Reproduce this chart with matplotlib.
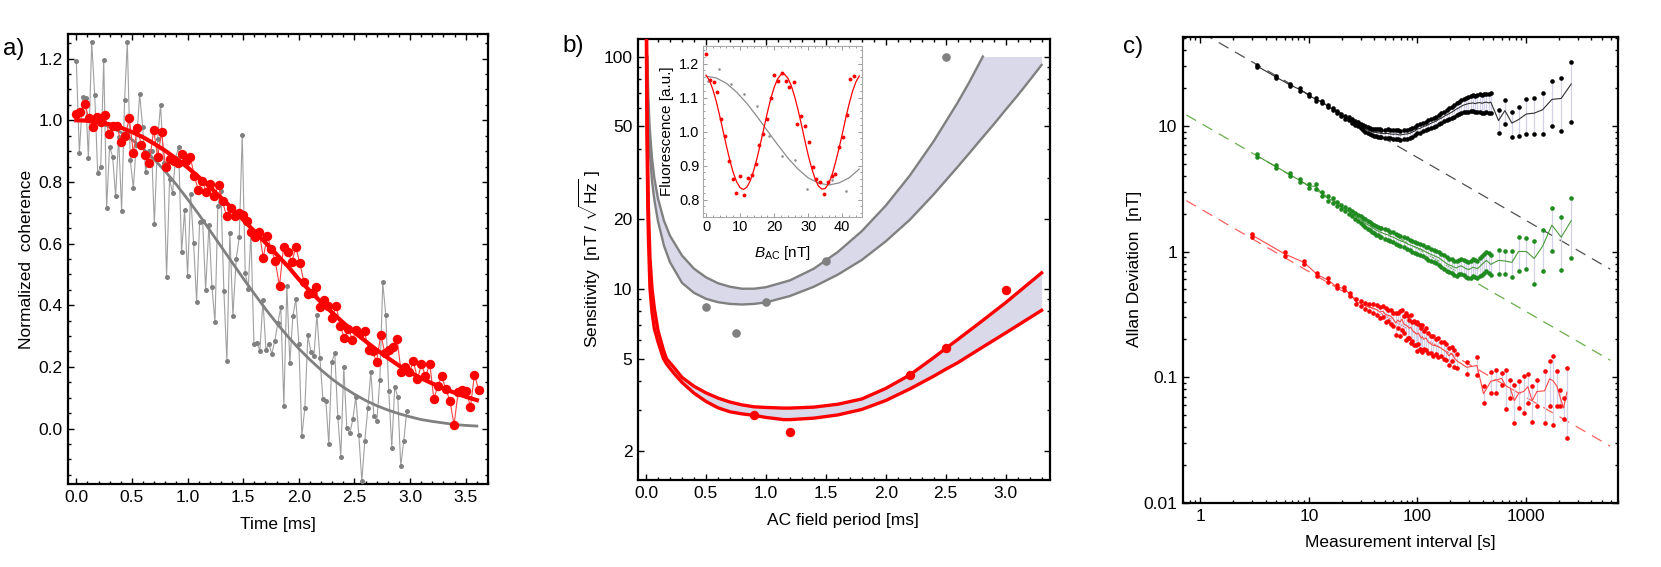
import numpy as np
import matplotlib
matplotlib.use('Agg')
import matplotlib.pyplot as plt
from matplotlib.ticker import MultipleLocator, FixedLocator, FixedFormatter, NullFormatter, LogLocator, FormatStrFormatter

plt.rcParams['font.family'] = ['Liberation Sans', 'DejaVu Sans']
plt.rcParams['mathtext.fontset'] = 'custom'
plt.rcParams['mathtext.rm'] = 'Liberation Sans'
plt.rcParams['mathtext.it'] = 'Liberation Sans:italic'
plt.rcParams['mathtext.bf'] = 'Liberation Sans:bold'
plt.rcParams['font.size'] = 12.5

# ---------------- Panel a data ----------------
red_t = [0.000, 0.036, 0.075, 0.111, 0.147, 0.186, 0.222, 0.257, 0.293, 0.329,
         0.365, 0.401, 0.440, 0.476, 0.512, 0.548, 0.584, 0.620, 0.656, 0.695,
         0.731, 0.766, 0.802, 0.838, 0.874, 0.910, 0.946, 0.985, 1.024, 1.060,
         1.096, 1.132, 1.168, 1.204, 1.240, 1.278, 1.314, 1.350, 1.386, 1.422,
         1.458, 1.497, 1.533, 1.569, 1.608, 1.644, 1.680, 1.716, 1.751, 1.787,
         1.826, 1.862, 1.901, 1.937, 1.973, 2.009, 2.045, 2.081, 2.117, 2.153,
         2.192, 2.228, 2.263, 2.299, 2.335, 2.371, 2.410, 2.446, 2.482, 2.518,
         2.554, 2.590, 2.626, 2.662, 2.698, 2.737, 2.772, 2.808, 2.847, 2.883,
         2.919, 2.955, 2.991, 3.030, 3.066, 3.102, 3.138, 3.177, 3.213, 3.249,
         3.284, 3.320, 3.359, 3.395, 3.431, 3.467, 3.506, 3.542, 3.578, 3.617]
red_v = [1.022, 1.027, 1.053, 1.009, 0.979, 1.010, 0.995, 1.016, 0.957, 0.980,
         0.980, 0.931, 0.950, 1.006, 0.894, 0.976, 0.919, 0.889, 0.862, 0.969,
         0.881, 0.962, 0.847, 0.874, 0.869, 0.860, 0.892, 0.867, 0.882, 0.820,
         0.774, 0.804, 0.768, 0.793, 0.753, 0.791, 0.737, 0.689, 0.716, 0.691,
         0.700, 0.692, 0.674, 0.638, 0.622, 0.637, 0.554, 0.625, 0.584, 0.544,
         0.463, 0.588, 0.573, 0.541, 0.588, 0.536, 0.477, 0.438, 0.440, 0.458,
         0.394, 0.417, 0.399, 0.358, 0.399, 0.333, 0.293, 0.323, 0.288, 0.320,
         0.309, 0.315, 0.255, 0.250, 0.217, 0.304, 0.246, 0.255, 0.263, 0.290,
         0.183, 0.199, 0.182, 0.218, 0.160, 0.209, 0.169, 0.210, 0.096, 0.138,
         0.169, 0.129, 0.088, 0.012, 0.117, 0.125, 0.122, 0.070, 0.174, 0.125]

gray_t = [0.000, 0.027, 0.057, 0.084, 0.108, 0.138, 0.165, 0.192, 0.219, 0.246,
          0.272, 0.299, 0.326, 0.353, 0.380, 0.407, 0.434, 0.458, 0.485, 0.512,
          0.539, 0.569, 0.596, 0.623, 0.650, 0.677, 0.701, 0.731, 0.757, 0.784,
          0.811, 0.838, 0.865, 0.892, 0.919, 0.946, 0.973, 1.000, 1.027, 1.054,
          1.081, 1.108, 1.135, 1.162, 1.192, 1.219, 1.246, 1.272, 1.299, 1.326,
          1.353, 1.380, 1.407, 1.437, 1.464, 1.491, 1.518, 1.545, 1.569, 1.596,
          1.623, 1.650, 1.677, 1.704, 1.731, 1.757, 1.784, 1.811, 1.838, 1.865,
          1.892, 1.919, 1.946, 1.973, 2.000, 2.027, 2.054, 2.081, 2.108, 2.135,
          2.162, 2.189, 2.216, 2.243, 2.269, 2.296, 2.323, 2.350, 2.377, 2.404,
          2.431, 2.458, 2.485, 2.512, 2.539, 2.566, 2.593, 2.620, 2.647, 2.674,
          2.701, 2.728, 2.754, 2.781, 2.808, 2.835, 2.862, 2.889, 2.916, 2.943,
          2.970]
gray_v = [1.191, 0.893, 1.076, 1.072, 0.878, 1.253, 1.083, 0.828, 0.850, 1.196,
          0.714, 0.915, 0.882, 0.754, 0.947, 0.706, 1.067, 1.255, 0.870, 0.781,
          0.920, 1.085, 0.979, 0.832, 0.900, 0.902, 0.662, 0.940, 1.050, 0.860,
          0.492, 0.808, 0.764, 0.879, 0.912, 0.572, 0.708, 0.495, 0.762, 0.602,
          0.412, 0.669, 0.674, 0.450, 0.661, 0.458, 0.345, 0.721, 0.770, 0.447,
          0.219, 0.635, 0.365, 0.550, 0.620, 0.953, 0.505, 0.453, 0.638, 0.274,
          0.277, 0.253, 0.417, 0.255, 0.274, 0.242, 0.285, 0.342, 0.394, 0.074,
          0.463, 0.212, 0.365, 0.419, 0.275, -0.024, 0.068, 0.302, 0.248, 0.234,
          0.369, 0.230, 0.096, 0.090, -0.051, 0.217, 0.244, 0.039, -0.091, 0.199,
          0.001, -0.015, 0.030, 0.102, -0.021, -0.170, -0.039, 0.066, 0.185, 0.041,
          0.025, 0.158, 0.474, 0.369, 0.123, -0.062, 0.136, 0.102, -0.123, -0.039,
          0.057]

fit_t = [0.0, 0.1, 0.2, 0.3, 0.4, 0.5, 0.6, 0.7, 0.8, 0.9, 1.0, 1.1, 1.2, 1.3, 1.4, 1.5,
         1.6, 1.7, 1.8, 1.9, 2.0, 2.1, 2.2, 2.3, 2.4, 2.5, 2.6, 2.7, 2.8, 2.9, 3.0, 3.1,
         3.2, 3.3, 3.4, 3.5, 3.6]
gray_fit = [1.0, 0.998, 0.991, 0.979, 0.961, 0.937, 0.908, 0.873, 0.834, 0.791, 0.744,
            0.695, 0.643, 0.591, 0.539, 0.487, 0.437, 0.388, 0.342, 0.299, 0.259, 0.223,
            0.190, 0.160, 0.134, 0.111, 0.091, 0.074, 0.060, 0.048, 0.038, 0.029, 0.023,
            0.018, 0.013, 0.010, 0.008]
red_fit = [1.0, 0.999, 0.994, 0.987, 0.976, 0.962, 0.945, 0.924, 0.901, 0.875, 0.847,
           0.816, 0.784, 0.749, 0.714, 0.677, 0.640, 0.603, 0.565, 0.527, 0.484, 0.446,
           0.410, 0.376, 0.343, 0.312, 0.283, 0.255, 0.229, 0.204, 0.182, 0.163, 0.146,
           0.130, 0.116, 0.103, 0.092]

# ---------------- Panel b data ----------------
gb_t = [0.009, 0.011, 0.02, 0.03, 0.05, 0.07, 0.1, 0.15, 0.2, 0.3, 0.4, 0.5, 0.6, 0.7,
        0.8, 0.9, 1.0, 1.2, 1.4, 1.6, 1.8, 2.0, 2.2, 2.4, 2.6, 2.7, 2.81, 2.9, 3.0,
        3.1, 3.2, 3.3]
gray_hi = [100, 100, 65.2, 49.8, 36.3, 29.8, 24.4, 19.6, 16.9, 13.9, 12.2, 11.2, 10.56,
           10.2, 10.0, 10.0, 10.15, 10.86, 12.2, 14.4, 17.7, 22.8, 30.7, 43.2, 63.4,
           78.1, 100, 100, 100, 100, 100, 100]
gray_lo = [100, 82, 52, 40, 29, 24, 19.5, 15.3, 13.0, 10.6, 9.6, 9.05, 8.75, 8.6, 8.55,
           8.6, 8.73, 9.3, 10.2, 11.5, 13.3, 16.0, 19.8, 25.5, 33.5, 38.5, 45, 51, 59,
           68, 79, 92]

rb_t = [0.003, 0.005, 0.008, 0.01, 0.015, 0.02, 0.033, 0.05, 0.07, 0.1, 0.145, 0.17,
        0.23, 0.3, 0.4, 0.5, 0.6, 0.7, 0.8, 0.9, 1.0, 1.15, 1.2, 1.4, 1.6, 1.8, 2.0,
        2.2, 2.4, 2.5, 2.6, 2.8, 3.0, 3.3]
red_hi = [200, 119, 70, 50, 32, 22, 13.5, 10, 8.2, 6.6, 5.45, 5.0, 4.6, 4.15, 3.8, 3.56,
          3.38, 3.25, 3.16, 3.1, 3.08, 3.06, 3.06, 3.09, 3.18, 3.35, 3.72, 4.25, 5.05,
          5.53, 6.04, 7.24, 8.71, 11.7]
red_lo = [119, 72, 45, 36, 22, 16.5, 10, 7.9, 6.7, 5.9, 5.0, 4.75, 4.34, 3.95, 3.55,
          3.27, 3.07, 2.95, 2.89, 2.85, 2.79, 2.73, 2.73, 2.77, 2.86, 3.02, 3.3, 3.7,
          4.2, 4.5, 4.8, 5.57, 6.45, 8.07]

gray_pt_t = [0.5, 0.75, 1.0, 1.5, 2.5]
gray_pt = [8.37, 6.47, 8.73, 13.1, 99.3]
red_pt_t = [0.9, 1.2, 2.2, 2.5, 3.0]
red_pt = [2.87, 2.41, 4.25, 5.53, 9.84]

# inset
ins_red_B = [0.0, 1.2, 2.2, 3.2, 4.4, 5.6, 6.7, 7.8, 8.9, 10.0, 11.1, 12.3, 13.4, 14.6,
             15.6, 16.7, 17.9, 19.0, 20.0, 21.2, 22.3, 23.5, 24.5, 25.7, 26.8, 27.9,
             29.0, 30.1, 31.3, 32.4, 33.4, 34.6, 35.8, 36.9, 38.0, 39.1, 40.2, 41.3,
             42.4, 43.5]
ins_red_F = [1.227, 1.151, 1.145, 1.117, 1.037, 0.986, 0.914, 0.862, 0.820, 0.871,
             0.815, 0.864, 0.874, 0.906, 0.961, 0.994, 1.038, 1.099, 1.166, 1.148,
             1.173, 1.150, 1.131, 1.145, 1.023, 1.046, 1.017, 0.970, 0.896, 0.860,
             0.852, 0.818, 0.852, 0.870, 0.876, 0.955, 0.985, 1.050, 1.155, 1.165]
ins_gray_B = [0.5, 3.8, 7.3, 11.1, 15.0, 18.6, 22.4, 26.0, 29.6, 33.3, 37.1, 41.0]
ins_gray_F = [1.15, 1.185, 1.141, 1.11, 1.076, 0.986, 0.928, 0.916, 0.83, 0.852, 0.857, 0.826]
red_fit_B = [0, 1, 2, 3, 4, 5, 6, 7, 8, 9, 10, 11, 12, 13, 14, 15, 16, 17, 18, 19, 20, 21,
             22, 23, 24, 25, 26, 27, 28, 29, 30, 31, 32, 33, 34, 35, 36, 37, 38, 39, 40,
             41, 42, 43, 44, 45]
red_fit_F = [1.166, 1.151, 1.124, 1.089, 1.047, 1.002, 0.957, 0.915, 0.879, 0.852, 0.835,
             0.830, 0.837, 0.856, 0.886, 0.923, 0.966, 1.011, 1.056, 1.097, 1.130, 1.155,
             1.168, 1.169, 1.158, 1.136, 1.104, 1.065, 1.021, 0.975, 0.931, 0.893, 0.862,
             0.840, 0.831, 0.833, 0.847, 0.873, 0.909, 0.949, 0.993, 1.039, 1.081, 1.118,
             1.146, 1.164]
gray_fit_B = [0, 3, 6, 9, 12, 15, 18, 21, 24, 27, 30, 33, 36, 39, 42, 45]
gray_fit_F = [1.163, 1.158, 1.142, 1.116, 1.083, 1.044, 1.003, 0.962, 0.923, 0.890, 0.864,
              0.849, 0.843, 0.849, 0.864, 0.890]

# ---------------- Panel c data ----------------
bg_tau = [3.32, 4.98, 6.64, 8.3, 9.96, 11.6, 13.3, 14.9, 16.6, 18.3,
          19.9, 21.6, 23.2, 24.9, 26.6, 28.2, 29.9, 31.5, 33.2, 34.9,
          36.5, 38.2, 39.8, 41.5, 43.2, 44.8, 46.5, 49.8, 53.1, 56.4,
          59.8, 63.1, 66.4, 69.7, 74.7, 79.7, 84.7, 89.6, 94.6, 99.6,
          106, 113, 120, 126, 133, 141, 149, 158, 166, 176,
          186, 196, 206, 218, 229, 241, 254, 266, 280, 294,
          309, 324, 340, 357, 375, 392, 412, 432, 452, 474,
          558, 639, 741, 853, 1005, 1189, 1419, 1729, 2109, 2608]
black_mid = [29.9, 24.4, 21.2, 19.4, 17.5, 16.2, 15.4, 14.3, 13.5, 12.8,
             12.2, 11.7, 11.4, 10.9, 10.5, 10.3, 9.95, 9.7, 9.45, 9.2,
             9.1, 8.95, 8.9, 8.85, 8.8, 8.75, 8.7, 8.65, 8.7, 8.6,
             8.55, 8.6, 8.5, 8.45, 8.55, 8.6, 8.7, 8.9, 9.1, 9.4,
             9.55, 9.85, 10.0, 10.2, 10.45, 10.7, 10.9, 11.3, 11.5, 11.9,
             12.2, 12.5, 12.8, 13.2, 13.6, 13.9, 14.3, 14.6, 14.8, 15.0,
             15.1, 15.2, 15.0, 15.2, 15.3, 15.1, 15.3, 15.4, 15.2, 15.4,
             11.0, 13.2, 10.5, 11.2, 12.4, 12.6, 13.4, 16.2, 16.5, 21.5]
black_err = [0.02, 0.02, 0.02, 0.02, 0.02, 0.02, 0.02, 0.02, 0.02, 0.02,
             0.02, 0.025, 0.025, 0.03, 0.03, 0.035, 0.04, 0.045, 0.05, 0.055,
             0.06, 0.06, 0.065, 0.065, 0.07, 0.07, 0.07, 0.075, 0.075, 0.075,
             0.08, 0.08, 0.08, 0.085, 0.085, 0.085, 0.08, 0.08, 0.08, 0.075,
             0.075, 0.075, 0.075, 0.08, 0.08, 0.08, 0.085, 0.085, 0.09, 0.09,
             0.095, 0.1, 0.1, 0.105, 0.11, 0.115, 0.12, 0.125, 0.13, 0.135,
             0.14, 0.145, 0.15, 0.155, 0.16, 0.165, 0.17, 0.17, 0.175, 0.18,
             0.21, 0.22, 0.23, 0.26, 0.31, 0.32, 0.36, 0.39, 0.45, 0.50]
green_mid = [5.77, 4.74, 4.09, 3.67, 3.32, 3.30, 2.87, 2.65, 2.54, 2.39,
             2.27, 2.18, 2.09, 2.0, 1.92, 1.85, 1.8, 1.74, 1.68, 1.63,
             1.6, 1.55, 1.52, 1.48, 1.46, 1.43, 1.42, 1.38, 1.36, 1.32,
             1.3, 1.27, 1.24, 1.22, 1.19, 1.16, 1.13, 1.11, 1.09, 1.07,
             1.05, 1.02, 0.99, 0.97, 0.95, 0.93, 0.91, 0.89, 0.86, 0.83,
             0.80, 0.78, 0.77, 0.75, 0.74, 0.76, 0.77, 0.75, 0.73, 0.72,
             0.73, 0.75, 0.74, 0.73, 0.76, 0.79, 0.82, 0.85, 0.82, 0.79,
             0.85, 0.84, 0.82, 1.0, 1.0, 0.88, 1.1, 1.62, 1.3, 1.76]
green_err = [0.03, 0.03, 0.03, 0.03, 0.03, 0.04, 0.04, 0.04, 0.04, 0.04,
             0.04, 0.045, 0.05, 0.05, 0.055, 0.06, 0.06, 0.065, 0.07, 0.07,
             0.07, 0.075, 0.075, 0.08, 0.08, 0.08, 0.085, 0.085, 0.085, 0.09,
             0.09, 0.09, 0.09, 0.09, 0.095, 0.095, 0.095, 0.1, 0.1, 0.1,
             0.1, 0.105, 0.105, 0.11, 0.11, 0.11, 0.115, 0.115, 0.12, 0.12,
             0.125, 0.125, 0.13, 0.13, 0.135, 0.135, 0.14, 0.14, 0.145, 0.15,
             0.15, 0.155, 0.16, 0.16, 0.165, 0.17, 0.17, 0.175, 0.18, 0.18,
             0.22, 0.21, 0.24, 0.3, 0.28, 0.37, 0.36, 0.38, 0.45, 0.5]
red_tau = [3, 6, 9, 12, 15, 18, 21, 24, 27, 30,
           33, 36, 39, 42, 45, 48, 51, 54, 57, 60,
           63, 66, 69, 72, 75, 78, 81, 84, 87, 90,
           93, 96, 99, 102, 105, 108, 111, 114, 120, 126,
           132, 138, 147, 156, 165, 174, 183, 195, 207, 219,
           231,
           285, 353, 406, 475, 532, 595, 653, 715, 779, 860,
           949, 1040, 1140, 1259, 1482, 1647, 1768, 1924, 2065, 2218,
           2378]
red_mid = [1.35, 0.955, 0.82, 0.653, 0.593, 0.525, 0.506, 0.458, 0.40, 0.385,
           0.37, 0.36, 0.355, 0.345, 0.33, 0.335, 0.315, 0.31, 0.305, 0.29,
           0.27, 0.285, 0.275, 0.29, 0.265, 0.26, 0.255, 0.245, 0.25, 0.235,
           0.23, 0.225, 0.22, 0.225, 0.215, 0.205, 0.21, 0.2, 0.205, 0.19,
           0.185, 0.18, 0.178, 0.175, 0.17, 0.165, 0.16, 0.148, 0.155, 0.142,
           0.135,
           0.12, 0.124, 0.074, 0.093, 0.095, 0.098, 0.085, 0.082, 0.065, 0.075,
           0.077, 0.084, 0.065, 0.077, 0.078, 0.097, 0.094, 0.085, 0.069, 0.057,
           0.076]
red_err = [0.03, 0.03, 0.03, 0.03, 0.03, 0.03, 0.03, 0.03, 0.04, 0.05,
           0.06, 0.07, 0.08, 0.09, 0.1, 0.1, 0.12, 0.1, 0.13, 0.12,
           0.2, 0.14, 0.22, 0.18, 0.15, 0.24, 0.2, 0.16, 0.25, 0.18,
           0.22, 0.2, 0.26, 0.18, 0.22, 0.2, 0.24, 0.16, 0.2, 0.18,
           0.16, 0.18, 0.14, 0.17, 0.13, 0.15, 0.14, 0.16, 0.13, 0.15,
           0.13,
           0.11, 0.16, 0.16, 0.19, 0.21, 0.11, 0.34, 0.17, 0.34, 0.24,
           0.33, 0.26, 0.32, 0.23, 0.45, 0.39, 0.56, 0.31, 0.15, 0.19,
           0.57]
dash_tau = [0.743, 5960]
black_dash = [64.8, 0.724]
green_dash = [12.2, 0.1366]
red_dash = [2.54, 0.02834]

# ---------------- figure ----------------
W, H = 1661, 567
fig = plt.figure(figsize=(W / 100, H / 100), dpi=100)


def axpos(x0, y0, x1, y1):
    return [x0 / W, 1 - y1 / H, (x1 - x0) / W, (y1 - y0) / H]


def ftxt(x, y, s, **kw):
    fig.text(x / W, 1 - y / H, s, ha='center', va='center', **kw)


def style(ax, lw=1.6):
    for s in ax.spines.values():
        s.set_linewidth(lw)
        s.set_color('black')
    ax.tick_params(which='both', direction='in', top=True, right=True,
                   labelsize=12.5, width=1.0, pad=4)
    ax.tick_params(which='major', length=4.5)
    ax.tick_params(which='minor', length=2.2)


RED = '#ff0000'
GRAY = '#808080'
LAV = '#d9d9ea'

# ---- panel a ----
ax = fig.add_axes(axpos(68, 34, 488, 484))
style(ax)
ax.plot(gray_t, gray_v, '-', color='#a0a0a0', lw=0.8, zorder=2)
ax.plot(gray_t, gray_v, 'o', color=GRAY, ms=3.6, mew=0, zorder=3)
ax.plot(fit_t, gray_fit, color=GRAY, lw=2.0, zorder=4)
ax.plot(red_t, red_v, '-', color='#ff4040', lw=0.8, zorder=5)
ax.plot(red_t, red_v, 'o', color=RED, ms=6.8, mew=0, zorder=6)
ax.plot(fit_t, red_fit, color=RED, lw=3.0, zorder=7)
ax.set_xlim(-0.075, 3.70)
ax.set_ylim(-0.18, 1.28)
ax.xaxis.set_major_locator(MultipleLocator(0.5))
ax.xaxis.set_minor_locator(MultipleLocator(0.1))
ax.yaxis.set_major_locator(MultipleLocator(0.2))
ax.yaxis.set_minor_locator(MultipleLocator(0.05))
ax.xaxis.set_major_formatter(FormatStrFormatter('%.1f'))
ax.yaxis.set_major_formatter(FormatStrFormatter('%.1f'))

# ---- panel b ----
ax = fig.add_axes(axpos(638, 39, 1050, 480))
style(ax)
ax.set_yscale('log')
gbt = np.array(gb_t)
ghi = np.array(gray_hi, dtype=float)
glo = np.array(gray_lo, dtype=float)
ax.fill_between(gbt, glo, ghi, color=LAV, lw=0, zorder=1)
m = gbt <= 2.81
ax.plot(gbt[m], ghi[m], color=GRAY, lw=1.7, zorder=3)
ax.plot(gbt, glo, color=GRAY, lw=1.7, zorder=3)
ax.fill_between(rb_t, red_lo, red_hi, color=LAV, lw=0, zorder=1)
ax.plot(rb_t, red_hi, color=RED, lw=2.4, zorder=4)
ax.plot(rb_t, red_lo, color=RED, lw=2.4, zorder=4)
ax.plot(gray_pt_t, gray_pt, 'o', color=GRAY, ms=6.2, mew=0, zorder=5)
ax.plot(red_pt_t, red_pt, 'o', color=RED, ms=6.8, mew=0, zorder=5)
ax.set_xlim(-0.067, 3.37)
ax.set_ylim(1.5, 119)
ax.xaxis.set_major_locator(MultipleLocator(0.5))
ax.xaxis.set_minor_locator(MultipleLocator(0.1))
ax.xaxis.set_major_formatter(FormatStrFormatter('%.1f'))
ax.yaxis.set_major_locator(FixedLocator([2, 5, 10, 20, 50, 100]))
ax.yaxis.set_major_formatter(FixedFormatter(['2', '5', '10', '20', '50', '100']))
ax.yaxis.set_minor_locator(FixedLocator([3, 4, 6, 7, 8, 9, 30, 40, 60, 70, 80, 90]))
ax.yaxis.set_minor_formatter(NullFormatter())

# inset
axi = fig.add_axes(axpos(703, 46, 862, 217))
axi.set_facecolor('white')
for s in axi.spines.values():
    s.set_linewidth(0.8)
    s.set_color('#a8a8a8')
axi.tick_params(which='both', direction='in', top=True, right=True,
                labelsize=10.5, width=0.6, color='#8a8a8a', pad=2.5)
axi.tick_params(which='major', length=3)
axi.tick_params(which='minor', length=1.6)
axi.plot(gray_fit_B, gray_fit_F, color='#8c8c8c', lw=0.9, zorder=2)
axi.plot(ins_gray_B, ins_gray_F, 'o', color='#909090', ms=1.9, mew=0, zorder=3)
axi.plot(red_fit_B, red_fit_F, color=RED, lw=0.9, zorder=4)
axi.plot(ins_red_B, ins_red_F, 'o', color=RED, ms=2.8, mew=0, zorder=5)
axi.set_xlim(-0.9, 45.8)
axi.set_ylim(0.749, 1.252)
axi.xaxis.set_major_locator(MultipleLocator(10))
axi.xaxis.set_minor_locator(MultipleLocator(2))
axi.yaxis.set_major_locator(MultipleLocator(0.1))
axi.yaxis.set_minor_locator(MultipleLocator(0.02))
axi.yaxis.set_major_formatter(FormatStrFormatter('%.1f'))

# ---- panel c ----
ax = fig.add_axes(axpos(1183, 37, 1618, 503))
style(ax)
ax.set_xscale('log')
ax.set_yscale('log')
ax.plot(dash_tau, black_dash, color='#505050', lw=0.9, dashes=(9, 6), zorder=1)
ax.plot(dash_tau, green_dash, color='#6aad4a', lw=0.9, dashes=(9, 6), zorder=1)
ax.plot(dash_tau, red_dash, color='#ff6060', lw=0.9, dashes=(9, 6), zorder=1)


def series(tau, mid, err, dot, line):
    tau = np.asarray(tau, float)
    mid = np.asarray(mid, float)
    err = np.asarray(err, float)
    hi = mid * (1 + err)
    lo = mid * (1 - err)
    ax.vlines(tau, lo, hi, color='#d2d2ea', lw=0.9, zorder=2)
    ax.plot(tau, mid, color=line, lw=0.8, zorder=3)
    ax.plot(tau, hi, 'o', color=dot, ms=3.3, mew=0, zorder=4)
    ax.plot(tau, lo, 'o', color=dot, ms=3.3, mew=0, zorder=4)


series(bg_tau, black_mid, black_err, 'black', '#303030')
series(bg_tau, green_mid, green_err, '#1f8a1f', '#4a9a3a')
series(red_tau, red_mid, red_err, RED, '#ff4848')
ax.set_xlim(0.693, 7030)
ax.set_ylim(0.01, 50.8)
ax.xaxis.set_major_locator(FixedLocator([1, 10, 100, 1000]))
ax.xaxis.set_major_formatter(FixedFormatter(['1', '10', '100', '1000']))
ax.yaxis.set_major_locator(FixedLocator([0.01, 0.1, 1, 10]))
ax.yaxis.set_major_formatter(FixedFormatter(['0.01', '0.1', '1', '10']))
ax.xaxis.set_minor_locator(LogLocator(base=10, subs=(2, 3, 4, 5, 6, 7, 8, 9)))
ax.yaxis.set_minor_locator(LogLocator(base=10, subs=(2, 3, 4, 5, 6, 7, 8, 9)))
ax.xaxis.set_minor_formatter(NullFormatter())
ax.yaxis.set_minor_formatter(NullFormatter())

# ---- labels ----
ftxt(14, 49, 'a)', fontsize=17.5)
ftxt(573, 46, 'b)', fontsize=17.5)
ftxt(1133, 47, 'c)', fontsize=17.5)
ftxt(27, 259, 'Normalized  coherence', rotation=90, fontsize=12.5)
ftxt(278, 524, 'Time [ms]', fontsize=12.5)
ftxt(590, 259, r'Sensitivity  [nT / $\sqrt{\mathrm{Hz}}$ ]', rotation=90, fontsize=12.5)
ftxt(843, 521, 'AC field period [ms]', fontsize=12.5)
ftxt(1134, 269, 'Allan Deviation  [nT]', rotation=90, fontsize=12.5)
ftxt(1400, 543, 'Measurement interval [s]', fontsize=12.5)
ftxt(667, 131, 'Fluorescence [a.u.]', rotation=90, fontsize=11)
ftxt(782, 253, r'$B_{\mathrm{AC}}$ [nT]', fontsize=11)

fig.savefig('out.png', dpi=100)
